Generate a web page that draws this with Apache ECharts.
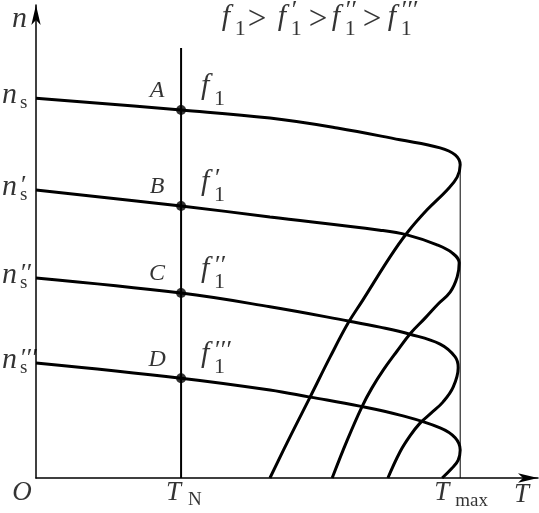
<!DOCTYPE html>
<html><head><meta charset="utf-8">
<script src="https://cdn.jsdelivr.net/npm/echarts@6/dist/echarts.min.js"></script>
<style>html,body{margin:0;padding:0;background:#fff}#c{width:539px;height:513px}
.fp{position:absolute;left:-2000px;top:0;font-family:"Liberation Serif";font-size:30px}</style>
</head><body>
<span class="fp" style="font-style:italic">nfATODCB</span><span class="fp">1smaxN&gt;′</span>
<div id="c"></div>
<script>
// Mechanical characteristics n = f(T) for four supply frequencies
const curveF1 = [[0,80.3],[28.9,77.8],[46.6,76.1],[60.0,74.0],[72.5,71.5],[80.5,69.8],[83.5,68.3],[84.5,66.2],[83.9,63.6],[81.9,60.9],[77.9,56.7],[73.9,51.8],[70.5,46.7],[65.1,37.6],[62.2,32.8],[58.6,25.6],[54.6,17.1],[50.6,8.7],[46.6,0]];
const curveF1p = [[0,60.9],[28.9,57.5],[46.6,55.2],[68.5,52.4],[73.9,51.4],[79.9,49.3],[82.9,47.6],[84.3,45.5],[83.9,42.5],[82.5,39.3],[80.1,36.8],[77.5,33.8],[74.7,30.7],[71.9,26.8],[69.3,23.0],[66.9,19.0],[64.9,15.0],[62.0,8.0],[59.0,0]];
const curveF1pp = [[0,42.3],[28.9,39.1],[46.6,36.2],[62.2,33.2],[68.5,31.9],[74.5,30.4],[80.5,28.3],[83.5,25.6],[84.1,23.3],[83.1,19.2],[81.1,16.1],[78.7,13.7],[76.5,11.6],[74.5,8.9],[72.5,5.5],[70.1,0]];
const curveF1ppp = [[0,24.3],[28.9,21.1],[46.6,18.6],[54.6,17.1],[64.5,15.2],[72.5,13.3],[80.5,10.6],[83.5,8.5],[84.5,5.9],[84.1,3.8],[82.9,2.1],[80.9,0]];
const ratedTorque = 28.9;      // T_N
const maxTorque = 84.5;        // T_max
const ratedLineTop = 90.9;
const maxLineTop = 66.2;
const pointNames = ['A','B','C','D'];
const pointSpeeds = [77.8, 57.5, 39.1, 21.1];
const syncSpeeds = [80.3, 60.9, 42.3, 24.3];
const primeMarks = ['', '′', '′′', '′′′'];
const formulaAnchor = [37, 96.8];
const formulaSteps = [0, 56, 110, 166];
const xMax = 100, yMax = 100;

const SERIF = 'Liberation Serif';
const labelItems = [];
function lab(anchor, dx, dy, text, size, italic, align){
  labelItems.push({value: anchor, label:{show:true, position:'inside', formatter:text, offset:[dx,dy],
    fontFamily:SERIF, fontSize:size, fontStyle: italic?'italic':'normal', color:'#000',
    align: align||'left', verticalAlign:'middle'}});
}
// y-axis sync speed labels
syncSpeeds.forEach((v,i)=>{
  lab([0,v], -34, -3, 'n', 30, true);
  lab([0,v], -16, 5, 's', 19, false);
  if (primeMarks[i]) lab([0,v], -15, -4, primeMarks[i], 26, false);
});
// operating points and frequency labels
pointSpeeds.forEach((v,i)=>{
  const a = [ratedTorque, v];
  lab(a, -24, -19, pointNames[i], 24, true, 'center');
  lab(a, 20, -24, 'f', 30, true);
  lab(a, 33, -11, '1', 22, false);
  if (primeMarks[i]) lab(a, 34, -27, primeMarks[i], 26, false);
});
// axis names and tick names
lab([0,0], -14, 15, 'O', 27, true, 'center');
lab([0,yMax], -24, 14, 'n', 30, true);
lab([xMax,0], -24, 17, 'T', 27, true);
lab([ratedTorque,0], -15, 15, 'T', 27, true);
lab([ratedTorque,0], 7, 22, 'N', 19, false);
lab([maxTorque,0], -26, 15, 'T', 27, true);
lab([maxTorque,0], -5, 23, 'max', 19, false);
// frequency ordering formula
formulaSteps.forEach((dx,i)=>{
  lab(formulaAnchor, dx, -3, 'f', 30, true);
  lab(formulaAnchor, dx+13, 9, '1', 22, false);
  if (primeMarks[i]) lab(formulaAnchor, dx+14, -9, primeMarks[i], 26, false);
  if (i<3) lab(formulaAnchor, dx+26+(i?5:0), 0, '>', 33, false);
});

const lineS = (data, w) => ({type:'line', data, smooth:0.4, symbol:'none', silent:true,
  lineStyle:{color:'#000', width:w}, z:3});
const option = {
  animation:false,
  backgroundColor:'#fff',
  grid:{left:36, right:1, top:5, bottom:35},
  xAxis:{type:'value', min:0, max:xMax, splitLine:{show:false}, axisTick:{show:false}, axisLabel:{show:false},
    axisLine:{show:true, onZero:false, symbol:['none','arrow'], symbolSize:[7,20], lineStyle:{color:'#000', width:1.5}}},
  yAxis:{type:'value', min:0, max:yMax, splitLine:{show:false}, axisTick:{show:false}, axisLabel:{show:false},
    axisLine:{show:true, onZero:false, symbol:['none','arrow'], symbolSize:[7,20], lineStyle:{color:'#000', width:1.5}}},
  series:[
    lineS(curveF1,3), lineS(curveF1p,3), lineS(curveF1pp,3), lineS(curveF1ppp,3),
    {type:'line', data:[[ratedTorque,0],[ratedTorque,ratedLineTop]], symbol:'none', lineStyle:{color:'#000', width:2}, z:2},
    {type:'line', data:[[maxTorque,0],[maxTorque,maxLineTop]], symbol:'none', lineStyle:{color:'#000', width:1}, z:2},
    {type:'scatter', data:pointSpeeds.map(v=>[ratedTorque,v]), symbolSize:10, itemStyle:{color:'#000'}, z:5},
    {type:'scatter', data:labelItems, symbolSize:1, clip:false, silent:true, itemStyle:{color:'rgba(0,0,0,0)'}, z:10}
  ]
};
const chart = echarts.init(document.getElementById('c'), null, {renderer:'canvas'});
function draw(){ chart.clear(); chart.setOption(option, true); }
draw();
window.addEventListener('load', draw);
</script></body></html>
